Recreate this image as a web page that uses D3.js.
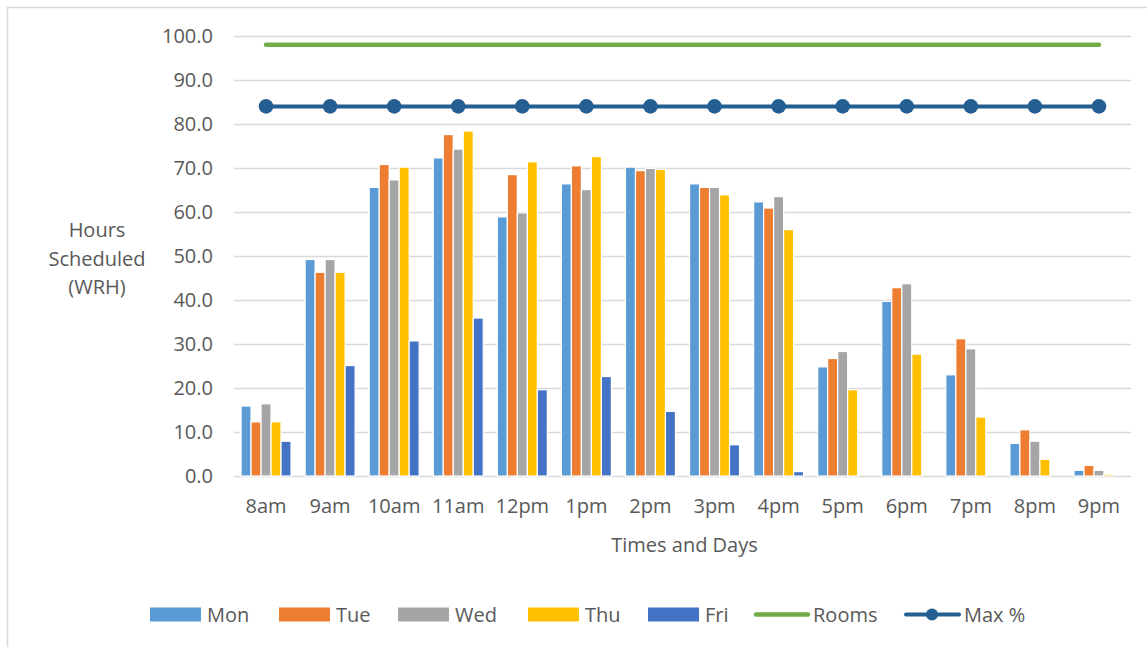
<!DOCTYPE html>
<html>
<head>
<meta charset="utf-8">
<script src="https://cdn.jsdelivr.net/npm/d3@7"></script>
<style>
  html, body { margin: 0; padding: 0; background: #fff; }
  #chart { width: 1147px; height: 647px; }
</style>
</head>
<body>
<div id="chart"></div>
<script>
const times = ['8am', '9am', '10am', '11am', '12pm', '1pm', '2pm', '3pm', '4pm', '5pm', '6pm', '7pm', '8pm', '9pm'];
const days = ['Mon', 'Tue', 'Wed', 'Thu', 'Fri'];
const mon = [15.9, 49.2, 65.6, 72.3, 58.9, 66.4, 70.2, 66.4, 62.3, 24.8, 39.7, 23.0, 7.4, 1.3];
const tue = [12.3, 46.3, 70.8, 77.6, 68.5, 70.5, 69.4, 65.6, 60.9, 26.7, 42.8, 31.2, 10.5, 2.4];
const wed = [16.4, 49.2, 67.3, 74.3, 59.8, 65.1, 69.9, 65.6, 63.5, 28.3, 43.7, 28.9, 7.9, 1.3];
const thu = [12.3, 46.3, 70.2, 78.4, 71.4, 72.6, 69.7, 63.9, 56.0, 19.6, 27.7, 13.4, 3.8, 0.4];
const fri = [7.9, 25.1, 30.7, 35.9, 19.6, 22.6, 14.7, 7.1, 1.0, 0, 0, 0, 0, 0];
const rooms = [98, 98, 98, 98, 98, 98, 98, 98, 98, 98, 98, 98, 98, 98];
const maxPct = [84, 84, 84, 84, 84, 84, 84, 84, 84, 84, 84, 84, 84, 84];
const yTicks = [0, 10, 20, 30, 40, 50, 60, 70, 80, 90, 100];

const dayColors = ['#5B9BD5', '#ED7D31', '#A5A5A5', '#FFC000', '#4472C4'];
const roomsColor = '#70AD47', maxColor = '#255E91';
const font = '"Open Sans", sans-serif', textColor = '#595959', fs = 20;

const totalW = 1147, totalH = 647;
const margin = { top: 36, right: 16, bottom: 171, left: 234 };
const W = 1131 - margin.left;
const H = 476 - margin.top;

const svg = d3.select('#chart').append('svg')
    .attr('width', totalW).attr('height', totalH);

// chart frame
svg.append('rect').attr('x', 7.5).attr('y', 7.5).attr('width', 1160).attr('height', 660)
    .attr('fill', 'none').attr('stroke', '#D9D9D9').attr('stroke-width', 1.5);

const g = svg.append('g').attr('transform', `translate(${margin.left},${margin.top})`);

const x = d3.scaleBand().domain(times).range([0, W]).paddingInner(0.22).paddingOuter(0.11);
const xc = d3.scaleBand().domain(times).range([0, W]);
const xDay = d3.scaleBand().domain(days).range([0, x.bandwidth()]);
const y = d3.scaleLinear().domain([0, 100]).range([H, 0]);

// Grid
g.append('g')
    .call(d3.axisLeft(y).tickValues(yTicks).tickSize(-W).tickFormat(''))
    .call(ax => ax.select('.domain').remove())
    .call(ax => ax.selectAll('line').attr('stroke', '#D9D9D9').attr('stroke-width', 1.3));

// Bars
const series = [mon, tue, wed, thu, fri];
series.forEach((vals, si) => {
    g.append('g').selectAll('rect').data(vals).join('rect')
        .attr('x', (_, i) => x(times[i]) + xDay(days[si]))
        .attr('y', d => y(d))
        .attr('width', xDay.bandwidth())
        .attr('height', d => H - y(d))
        .attr('fill', dayColors[si])
        .attr('stroke', '#fff').attr('stroke-width', 1.2);
});

// Lines
const line = d3.line().x((_, i) => xc(times[i]) + xc.bandwidth() / 2).y(d => y(d));
g.append('path').datum(rooms).attr('d', line)
    .attr('fill', 'none').attr('stroke', roomsColor).attr('stroke-width', 4.5).attr('stroke-linecap', 'round');
g.append('path').datum(maxPct).attr('d', line)
    .attr('fill', 'none').attr('stroke', maxColor).attr('stroke-width', 4).attr('stroke-linecap', 'round');
g.append('g').selectAll('circle').data(maxPct).join('circle')
    .attr('cx', (_, i) => xc(times[i]) + xc.bandwidth() / 2)
    .attr('cy', d => y(d)).attr('r', 7.3).attr('fill', maxColor);

// Y axis labels
g.append('g')
    .call(d3.axisLeft(y).tickValues(yTicks).tickSize(0).tickPadding(21).tickFormat(d3.format('.1f')))
    .call(ax => ax.select('.domain').remove())
    .call(ax => ax.selectAll('text').attr('fill', textColor).attr('font-size', fs).attr('font-family', font));

// X axis labels
g.append('g').attr('transform', `translate(0,${H})`)
    .call(d3.axisBottom(xc).tickSize(0).tickPadding(23))
    .call(ax => ax.select('.domain').remove())
    .call(ax => ax.selectAll('text').attr('fill', textColor).attr('font-size', fs).attr('font-family', font));

g.append('text').attr('x', W / 2 + 2).attr('y', H + 76)
    .attr('text-anchor', 'middle').attr('font-size', fs).attr('font-family', font)
    .attr('fill', textColor).text('Times and Days');

const yTitle = svg.append('text').attr('x', 97).attr('y', 237)
    .attr('text-anchor', 'middle').attr('font-size', fs).attr('font-family', font).attr('fill', textColor);
['Hours', 'Scheduled', '(WRH)'].forEach((t, i) => {
    yTitle.append('tspan').attr('x', 97).attr('dy', i === 0 ? 0 : 28.5).text(t);
});

// Legend
const legY = 614.5;
const legend = svg.append('g');
const swatchX = [150, 279, 398, 528, 648];
days.forEach((d, i) => {
    legend.append('rect').attr('x', swatchX[i]).attr('y', legY - 7).attr('width', 51).attr('height', 14)
        .attr('fill', dayColors[i]);
    legend.append('text').attr('x', swatchX[i] + 57).attr('y', legY).attr('dy', '0.35em')
        .attr('font-size', fs).attr('font-family', font).attr('fill', textColor).text(d);
});
legend.append('line').attr('x1', 756).attr('x2', 808).attr('y1', legY).attr('y2', legY)
    .attr('stroke', roomsColor).attr('stroke-width', 4.5).attr('stroke-linecap', 'round');
legend.append('text').attr('x', 813).attr('y', legY).attr('dy', '0.35em')
    .attr('font-size', fs).attr('font-family', font).attr('fill', textColor).text('Rooms');
legend.append('line').attr('x1', 906).attr('x2', 959).attr('y1', legY).attr('y2', legY)
    .attr('stroke', maxColor).attr('stroke-width', 4).attr('stroke-linecap', 'round');
legend.append('circle').attr('cx', 932).attr('cy', legY).attr('r', 6).attr('fill', maxColor);
legend.append('text').attr('x', 964).attr('y', legY).attr('dy', '0.35em')
    .attr('font-size', fs).attr('font-family', font).attr('fill', textColor).text('Max %');
</script>
</body>
</html>
